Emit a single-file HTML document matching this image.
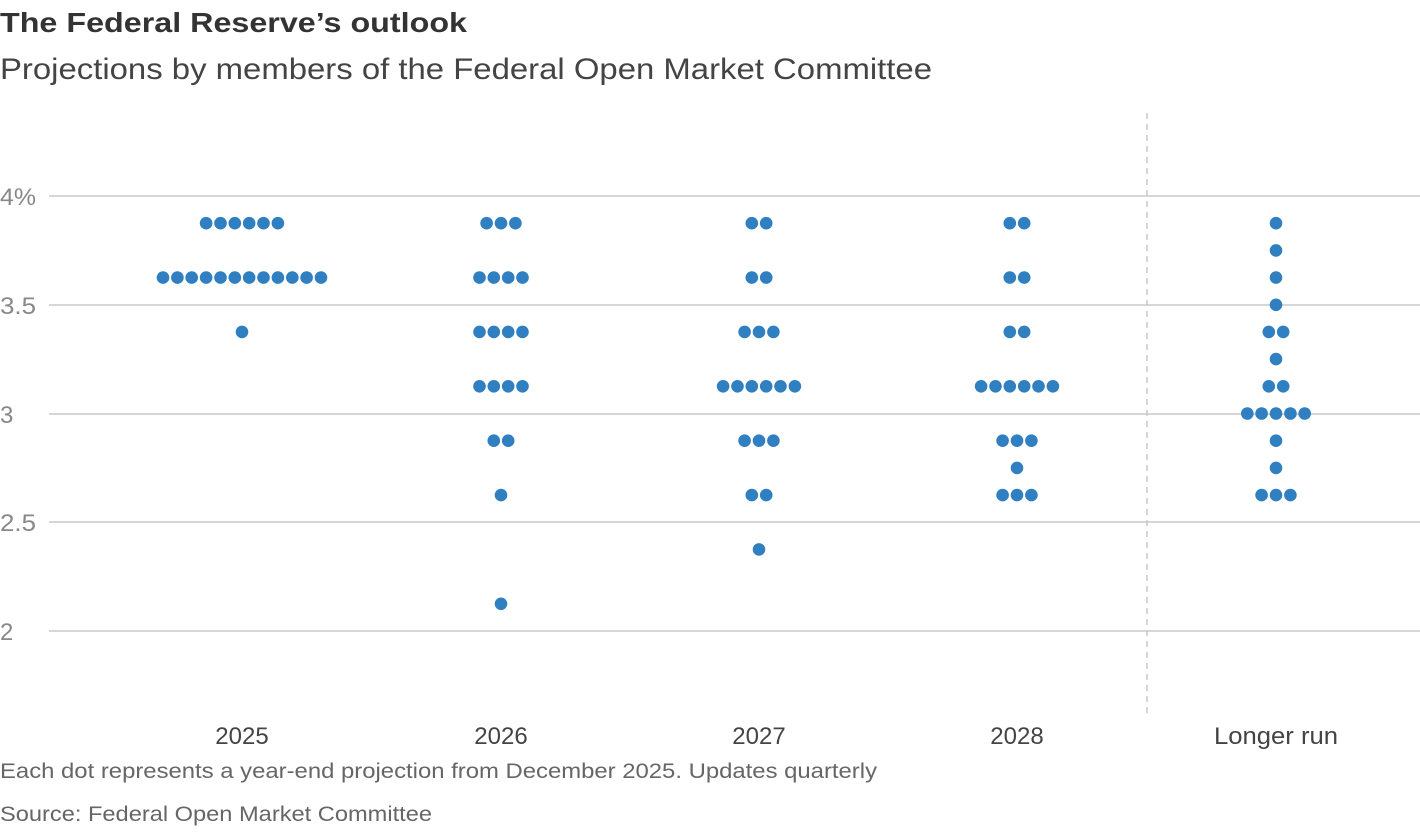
<!DOCTYPE html>
<html><head><meta charset="utf-8"><style>
html,body{margin:0;padding:0;background:#fff;}
body{width:1420px;height:828px;overflow:hidden;font-family:"Liberation Sans",sans-serif;}
</style></head><body>
<svg id="s" width="1420" height="828" xmlns="http://www.w3.org/2000/svg" font-family="Liberation Sans, sans-serif">
<text x="0" y="32" font-size="28" font-weight="bold" fill="#333" textLength="467" lengthAdjust="spacingAndGlyphs">The Federal Reserve’s outlook</text>
<text x="0" y="79" font-size="30" fill="#444" textLength="932" lengthAdjust="spacingAndGlyphs">Projections by members of the Federal Open Market Committee</text>
<g stroke="#c8c8c8" stroke-width="1.5">
<line x1="49" x2="1420" y1="196" y2="196"/>
<line x1="49" x2="1420" y1="305" y2="305"/>
<line x1="49" x2="1420" y1="414" y2="414"/>
<line x1="49" x2="1420" y1="522" y2="522"/>
<line x1="49" x2="1420" y1="631" y2="631"/>
</g>
<line x1="1147" x2="1147" y1="113" y2="715" stroke="#c8c8c8" stroke-width="1.5" stroke-dasharray="6,5"/>
<g font-size="24" fill="#888">
<text x="0" y="205" textLength="36" lengthAdjust="spacingAndGlyphs">4%</text>
<text x="0" y="314" textLength="36" lengthAdjust="spacingAndGlyphs">3.5</text>
<text x="0" y="423">3</text>
<text x="0" y="531" textLength="36" lengthAdjust="spacingAndGlyphs">2.5</text>
<text x="0" y="640">2</text>
</g>
<g font-size="24" fill="#444" text-anchor="middle">
<text x="242" y="744">2025</text>
<text x="501" y="744">2026</text>
<text x="759" y="744">2027</text>
<text x="1017" y="744">2028</text>
<text x="1276" y="744" textLength="124" lengthAdjust="spacingAndGlyphs">Longer run</text>
</g>
<text x="0" y="778" font-size="21" fill="#666" textLength="877" lengthAdjust="spacingAndGlyphs">Each dot represents a year-end projection from December 2025. Updates quarterly</text>
<text x="0" y="821" font-size="21" fill="#666" textLength="432" lengthAdjust="spacingAndGlyphs">Source: Federal Open Market Committee</text>
<g id="dots" fill="#2f7fc1"></g>
</svg>
<script>
var data=[[242,[[3.875,6],[3.625,12],[3.375,1]]],
[501,[[3.875,3],[3.625,4],[3.375,4],[3.125,4],[2.875,2],[2.625,1],[2.125,1]]],
[759,[[3.875,2],[3.625,2],[3.375,3],[3.125,6],[2.875,3],[2.625,2],[2.375,1]]],
[1017,[[3.875,2],[3.625,2],[3.375,2],[3.125,6],[2.875,3],[2.75,1],[2.625,3]]],
[1276,[[3.875,1],[3.75,1],[3.625,1],[3.5,1],[3.375,2],[3.25,1],[3.125,2],[3,5],[2.875,1],[2.75,1],[2.625,3]]]];
var g=document.getElementById('dots');
for(var a=0;a<data.length;a++){var c=data[a];for(var b=0;b<c[1].length;b++){var r=c[1][b];var y=196+(4-r[0])*217.5;for(var i=0;i<r[1];i++){var x=c[0]+(i-(r[1]-1)/2)*14.36;var e=document.createElementNS('http://www.w3.org/2000/svg','circle');e.setAttribute('cx',x.toFixed(1));e.setAttribute('cy',y.toFixed(1));e.setAttribute('r','6.3');g.appendChild(e);}}}
</script>
</body></html>
